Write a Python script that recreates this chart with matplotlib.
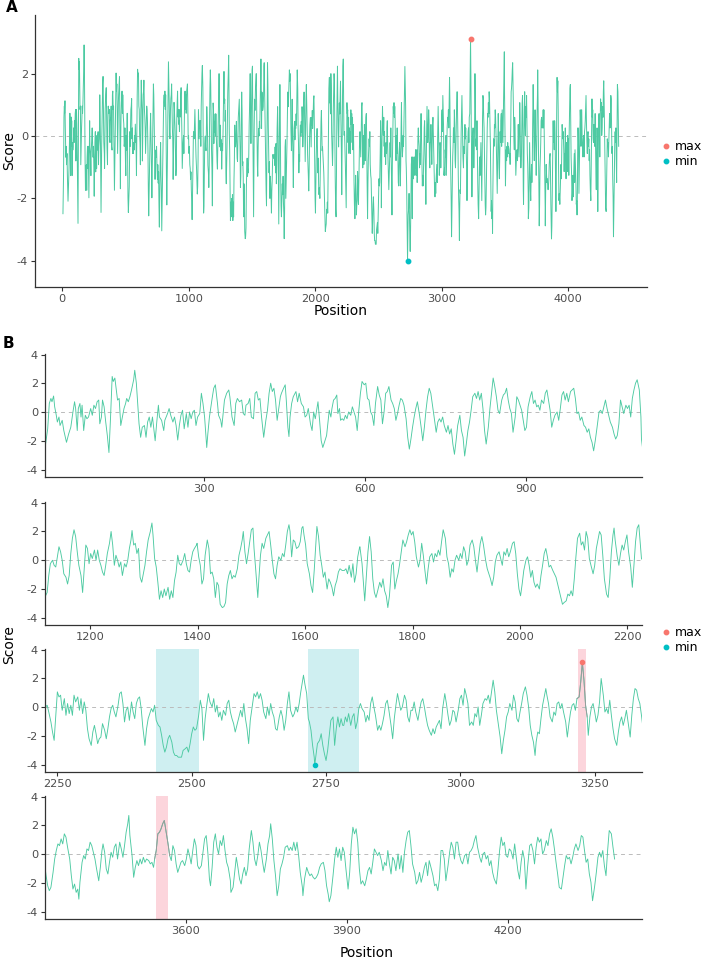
import numpy as np
import matplotlib
matplotlib.use("Agg")
import matplotlib.pyplot as plt
from matplotlib.patches import Rectangle
from matplotlib.lines import Line2D

# ---------------- data ----------------
pos_r1a = [5,10,13,16,18,21,23,26,28,31,
 33,37,40,45,49,53,57,60,62,65,
 67,70,72,74,77,80,83,86,90,93,
 96,99,102,105,107,110,112,115,118,121,
 124,127,130,132,135,137,140,143,146,149,
 152,155,157,160,163,166,170,172,175,177,
 180,183,186,190,193,196,199,202,205,210,
 213,216,218,222,226,228,233,236,239,243,
 246,249,252,255,258,261,264,268,271,274,
 277,280,283,286,289,293,296,299,302,306,
 308,311,316,319,322,326,328,332,334,337,
 339,343,347,349,353,357,360,363,367,371,
 374,377,379,383,386,389,393,396,399,402,
 405,408,412,416,419,422,425,428,431,434,
 437,440,443,445,449,452,454,457,459,461,
 464,467,472,475,478,482,486,489,492,495,
 499,502,505,508,513,516,519,522,525,529,
 532,534,537,539,542,545,548,550,553,555,
 558]
score_r1a = [-2.49,-1.15,0.61,0.96,0.73,1.13,0.38,-0.21,-0.68,-0.33,
 -0.92,-0.56,-1.27,-2.09,-1.51,-1.04,0.02,0.73,0.26,-1.27,
 0.26,0.61,-0.33,0.49,-1.27,-0.21,-0.45,-0.33,0.26,-0.21,
 0.49,0.26,0.73,0.85,-0.8,-0.33,0.85,0.38,-0.68,-1.62,
 -2.8,-0.33,2.49,2.14,2.38,1.79,0.85,0.96,-0.92,-0.33,
 0.26,0.61,0.96,0.73,1.08,1.55,2.26,2.92,2.02,0.85,
 -0.8,-1.74,-1.04,-0.92,-1.74,-0.68,-0.33,-1.04,-0.33,-1.98,
 -0.68,0.49,-0.33,-0.56,-1.27,-0.56,-0.09,0.26,-0.21,-0.68,
 -0.33,-0.92,-1.93,-0.92,-0.21,0.14,-1.15,-0.09,-1.04,0.02,
 -0.45,0.02,0.14,-0.92,-0.33,-0.09,1.32,0.61,-0.33,-2.45,
 -1.51,-0.33,0.96,1.67,1.91,0.61,-0.21,-0.56,-1.04,0.14,
 0.85,1.32,1.55,1.08,-0.33,-0.92,0.61,0.96,0.73,0.85,
 -0.09,-0.21,0.49,0.61,0.96,-0.33,-0.45,1.32,1.44,0.85,
 0.96,-0.33,-1.74,-0.56,0.14,1.32,2.02,1.44,1.67,0.85,
 -0.56,0.26,1.08,1.32,1.67,1.91,0.85,-1.04,-1.69,-0.33,
 0.61,1.08,1.44,0.73,1.32,0.61,0.38,-0.33,-0.21,0.26,
 -0.8,-1.27,0.02,-0.45,0.73,-0.56,-1.98,-2.45,-2.09,-1.62,
 -0.56,0.14,-0.33,0.26,0.85,0.96,1.2,-0.09,0.26,-0.56,
 -0.45]

pos_r1b = [561,564,567,570,574,577,580,583,586,589,
 592,595,599,602,605,608,611,614,617,620,
 624,627,630,633,636,639,642,645,649,652,
 655,658,661,664,667,670,673,677,680,683,
 686,689,692,695,698,702,705,708,711,714,
 717,720,723,727,730,733,736,739,742,745,
 748,752,755,758,761,764,767,770,773,777,
 780,783,786,789,792,795,798,801,805,808,
 811,814,817,820,823,826,830,833,836,839,
 842,845,848,851,855,858,861,864,867,870,
 873,876,880,883,886,889,892,895,898,901,
 904,908,911,914,917,920,923,926,929,933,
 936,939,942,945,948,951,954,958,961,964,
 967,970,973,976,979,983,986,989,992,995,
 998,1001,1004,1008,1011,1014,1017,1020,1023,1026,
 1029,1032,1036,1039,1042,1045,1048,1051,1054,1057,
 1061,1064,1067,1070,1073,1076,1079,1082,1086,1089,
 1092,1095,1098,1101,1104,1107,1111,1114,1115]
score_r1b = [-0.56,-0.21,-0.45,0.02,-0.21,0.38,0.02,-0.33,-1.27,0.14,
 1.32,2.14,1.91,2.02,0.96,0.85,0.02,-0.21,-0.92,0.61,
 1.79,1.2,0.85,-0.8,0.02,1.32,1.44,1.79,0.85,0.61,
 0.26,-0.56,-0.09,0.49,0.96,0.85,0.49,-0.45,-1.74,-2.56,
 -1.86,-1.04,-0.33,0.26,0.73,-0.21,-1.04,-1.98,-1.04,0.14,
 1.08,1.67,1.32,0.26,-0.56,-1.39,-0.68,-0.45,-0.68,-0.33,
 -0.92,-1.39,-0.92,-1.51,-1.15,-2.21,-2.92,-1.98,-0.92,-0.21,
 -1.27,-1.74,-3.04,-2.21,-1.27,-0.68,0.14,1.08,1.32,0.96,
 1.44,0.85,1.32,0.26,-1.27,-2.21,-1.04,0.26,1.32,2.38,
 1.79,1.08,0.14,-0.09,0.85,1.2,1.32,1.67,0.85,0.26,
 -0.09,-1.39,-0.33,1.08,0.85,0.49,0.14,-0.56,-1.27,-1.04,
 0.38,1.08,1.44,0.61,0.85,0.38,0.49,0.14,0.85,0.61,
 1.32,1.55,0.85,0.14,-1.04,-0.56,-0.21,0.02,-0.56,0.26,
 1.2,1.44,0.85,1.32,0.73,1.44,1.55,1.67,0.96,-0.09,
 0.02,-0.56,-0.33,-0.92,-1.04,-1.39,-1.15,-1.74,-2.09,-2.68,
 -1.98,-1.15,0.02,0.14,-0.09,0.38,0.85,0.26,-0.21,-0.68,
 -1.04,-1.51,-1.86,-1.62,-0.8,0.85,0.38,-0.09,0.49,0.26,
 0.49,-0.33,0.96,1.55,2.02,2.26,1.55,-0.33,-1.86]

pos_r2a = [1117,1120,1123,1126,1130,1133,1136,1139,1142,1145,
 1148,1151,1155,1158,1161,1164,1167,1170,1173,1176,
 1179,1183,1186,1189,1192,1195,1198,1201,1204,1208,
 1211,1214,1217,1220,1223,1226,1229,1232,1236,1239,
 1242,1245,1248,1251,1254,1257,1260,1264,1267,1270,
 1273,1276,1278,1281,1284,1287,1290,1293,1296,1299,
 1302,1305,1308,1312,1315,1317,1320,1323,1326,1329,
 1332,1335,1338,1341,1345,1348,1351,1354,1357,1360,
 1363,1366,1369,1373,1376,1379,1382,1385,1388,1391,
 1394,1398,1399,1402,1405,1408,1411,1414,1418,1421,
 1424,1427,1430,1433,1436,1439,1442,1446,1449,1452,
 1455,1458,1461,1464,1467,1470,1474,1477,1480,1483,
 1485,1488,1491,1494,1497,1500,1503,1505,1508,1512,
 1514,1517,1520,1523,1527,1530,1533,1536,1539,1542,
 1545,1548,1551,1555,1558,1561,1564,1567,1570,1572,
 1575,1578,1581,1584,1588,1591,1594,1596,1598,1601,
 1604,1608,1611,1614,1617,1620,1622,1625,1628,1631,
 1634,1637,1641,1644,1647,1650,1653,1656,1659,1662,
 1665,1669]
score_r2a = [-2.47,-2.24,-1.06,-0.24,0.0,-0.35,-0.47,0.24,0.94,0.59,
 0.0,-0.94,-1.18,-1.65,-1.06,0.47,1.53,2.12,1.65,0.59,
 -0.35,-1.06,-2.24,-0.59,1.06,0.82,-0.24,0.47,0.12,0.71,
 0.0,0.71,0.0,-0.35,-0.82,-1.06,-0.35,0.47,1.18,2.0,
 1.06,-0.35,0.35,0.0,-0.47,-0.12,-1.06,-0.24,-0.47,0.0,
 0.82,1.41,2.07,1.06,1.18,0.47,0.82,-1.18,-1.53,-0.94,
 -0.35,0.59,1.41,2.0,2.59,1.76,0.12,-0.47,-1.53,-2.71,
 -2.12,-2.59,-2.0,-2.47,-1.88,-2.71,-2.12,-2.59,-1.41,-0.82,
 0.35,-0.24,-0.35,0.0,0.47,-0.24,-0.71,-0.82,0.0,0.59,
 0.82,1.06,1.18,0.24,-0.35,-1.65,-1.29,0.35,1.41,0.82,
 -0.94,-0.82,-1.29,-2.59,-1.53,-1.76,-3.06,-3.29,-3.22,-2.94,
 -1.65,-1.06,-0.71,-1.29,-1.06,-1.18,-0.59,0.35,0.82,1.41,
 2.0,0.59,-0.24,0.47,1.29,2.12,2.24,0.82,-0.59,-2.59,
 -1.29,0.35,1.18,0.82,1.53,1.76,2.0,1.06,0.0,-0.94,
 -1.29,-0.35,0.24,0.0,0.47,0.24,1.06,2.0,2.47,2.0,
 0.24,1.41,1.29,0.82,0.94,1.29,2.24,2.35,1.76,1.06,
 -0.24,-0.94,-1.76,-2.24,-0.71,1.06,2.35,1.65,0.35,-0.35,
 -1.18,-0.82,-2.0,-1.29,-1.53,-1.88,-2.47,-1.76,-1.41,-0.82,
 -0.59,-0.71]

pos_r2b = [1673,1676,1679,1682,1686,1689,1692,1695,1698,1701,
 1702,1706,1709,1711,1714,1717,1720,1723,1726,1729,
 1732,1736,1739,1742,1745,1748,1751,1754,1757,1761,
 1764,1767,1770,1773,1776,1779,1782,1786,1789,1792,
 1795,1798,1801,1804,1807,1811,1814,1817,1820,1823,
 1826,1829,1832,1836,1839,1842,1845,1848,1851,1854,
 1857,1861,1864,1867,1870,1873,1876,1879,1882,1886,
 1889,1892,1895,1898,1901,1904,1907,1911,1914,1917,
 1920,1923,1926,1929,1932,1936,1939,1942,1945,1948,
 1951,1954,1957,1961,1964,1967,1970,1973,1976,1979,
 1982,1986,1989,1992,1995,1998,2001,2004,2007,2011,
 2014,2017,2020,2023,2026,2029,2032,2036,2039,2042,
 2045,2048,2051,2054,2057,2061,2064,2067,2070,2073,
 2076,2079,2082,2086,2089,2092,2095,2098,2101,2104,
 2107,2111,2114,2117,2120,2123,2126,2129,2132,2136,
 2139,2142,2145,2148,2151,2154,2157,2161,2164,2167,
 2170,2173,2175,2177,2181,2184,2187,2190,2193,2196,
 2199,2202,2206,2209,2212,2215,2218,2221,2223,2226]
score_r2b = [-0.71,-0.59,-0.94,-0.35,-1.18,-0.24,-1.53,-0.94,0.24,0.82,
 0.94,-0.24,-1.76,-2.82,-1.06,0.59,1.65,0.59,-1.29,-2.24,
 -2.59,-2.0,-1.53,-1.88,-1.29,-2.12,-2.47,-3.29,-2.47,-0.35,
 -0.12,-2.0,-1.41,-0.94,-0.24,0.59,1.41,0.94,1.29,1.76,
 2.12,1.76,2.0,1.29,0.24,-0.47,0.0,1.18,0.35,-0.71,
 -1.65,-0.59,0.24,0.47,-0.12,0.47,0.24,0.71,0.35,1.29,
 2.12,1.53,0.24,-0.24,-1.18,-0.59,-0.82,0.0,0.35,0.0,
 0.47,0.12,0.94,0.59,-0.35,0.0,1.06,1.41,0.94,0.0,
 -0.82,0.24,1.18,1.65,1.06,0.0,-0.59,-0.94,-1.29,-1.76,
 -1.18,-0.12,0.35,0.59,0.12,-0.35,0.59,0.35,0.82,0.24,
 0.59,1.18,1.29,0.47,-0.94,-2.0,-2.47,-1.65,-0.71,0.0,
 0.24,-0.35,-1.18,-0.71,-1.53,-1.88,-1.65,-2.0,-1.06,-0.35,
 0.47,0.82,0.24,-0.47,-0.35,-0.71,-0.94,-1.18,-1.65,-2.12,
 -2.59,-3.06,-2.94,-2.82,-2.35,-2.47,-2.12,-2.47,-1.29,0.24,
 1.53,1.88,1.06,1.29,0.71,2.0,1.53,0.12,-0.35,-0.94,
 -0.35,0.82,1.41,2.0,1.76,0.35,-1.29,-2.35,-2.59,-1.29,
 0.59,1.76,2.24,1.41,0.24,-0.35,0.47,1.06,0.71,1.29,
 1.76,0.59,-0.47,-1.88,-0.35,1.29,2.24,2.47,1.53,0.12]

pos_r3a = [2228,2231,2234,2238,2241,2244,2247,2250,2253,2256,
 2259,2263,2266,2269,2272,2275,2278,2281,2284,2288,
 2291,2294,2297,2300,2303,2306,2309,2313,2316,2319,
 2322,2325,2328,2331,2334,2338,2341,2344,2347,2350,
 2353,2356,2359,2363,2366,2369,2372,2375,2378,2381,
 2384,2388,2391,2394,2397,2400,2403,2406,2409,2413,
 2416,2419,2422,2425,2428,2431,2434,2438,2441,2444,
 2447,2450,2453,2456,2459,2463,2466,2469,2472,2475,
 2478,2481,2484,2488,2491,2494,2497,2500,2503,2506,
 2509,2513,2516,2519,2522,2525,2528,2531,2534,2538,
 2541,2544,2547,2550,2553,2556,2559,2563,2566,2569,
 2572,2575,2578,2581,2584,2588,2591,2594,2597,2600,
 2603,2606,2609,2613,2616,2619,2622,2625,2628,2631,
 2634,2638,2641,2644,2647,2650,2653,2656,2659,2663,
 2666,2669,2672,2675,2678,2681,2684,2688,2691,2694,
 2697,2700,2703,2706,2708,2711,2714,2717,2719,2722,
 2725,2728,2729,2732,2734,2738,2741,2744,2747,2750,
 2753,2756,2759,2763,2766,2769,2772,2775,2778,2781]
score_r3a = [0.02,0.14,-0.33,-1.02,-1.72,-2.3,-0.67,1.07,0.72,0.84,
 -0.21,0.6,-0.56,0.26,-0.44,0.14,-0.56,0.84,0.37,0.72,
 -0.21,0.6,-0.44,0.37,-0.21,-1.49,-2.19,-2.65,-1.72,-1.26,
 -1.84,-2.53,-2.19,-2.07,-1.14,-1.6,-2.19,-1.49,-0.67,-0.09,
 0.14,-0.33,-0.67,0.14,0.95,1.07,0.26,-1.02,-0.21,0.02,
 -0.91,0.37,-0.33,-0.79,0.26,0.6,0.72,-0.09,-1.37,-2.65,
 -1.49,-0.79,-0.44,-0.09,-0.33,0.14,-0.91,-1.26,-1.37,-1.95,
 -2.65,-3.12,-2.77,-2.19,-1.95,-2.42,-3.12,-3.35,-3.35,-3.47,
 -3.47,-3.47,-3.0,-2.88,-2.77,-3.12,-2.53,-1.84,-1.37,-1.6,
 -1.49,-0.56,0.49,-0.09,-2.3,-0.79,0.14,0.95,0.37,0.02,
 0.6,-0.33,0.14,-0.67,-0.33,-0.91,-0.21,-0.56,0.26,0.49,
 -0.33,-0.79,-1.14,-1.72,-1.26,-0.67,-0.21,-0.67,0.26,-0.79,
 -1.49,-2.53,-0.91,0.14,0.95,0.72,1.07,0.6,0.95,0.49,
 -0.33,-0.79,0.02,-0.56,0.26,-0.33,-0.67,-1.49,-1.6,-0.67,
 -0.21,-0.67,-1.6,-0.91,0.26,1.07,-0.21,-0.67,-0.44,0.02,
 -0.33,0.26,1.07,1.77,2.23,1.53,0.95,-0.79,-1.02,-1.6,
 -2.65,-3.47,-4.0,-3.12,-2.53,-2.3,-1.84,-2.65,-3.23,-3.7,
 -3.0,-1.95,-0.91,-0.67,-2.65,-1.49,-0.67,-1.37,-0.79,-1.26]

pos_r3b = [2783,2786,2789,2792,2796,2799,2802,2805,2808,2811,
 2814,2817,2821,2824,2827,2830,2833,2836,2839,2842,
 2846,2849,2852,2855,2858,2861,2864,2867,2871,2874,
 2877,2880,2883,2886,2889,2892,2896,2899,2902,2905,
 2908,2911,2914,2917,2921,2924,2927,2930,2933,2936,
 2939,2942,2946,2949,2952,2955,2958,2961,2964,2967,
 2971,2974,2977,2980,2983,2986,2989,2992,2996,2999,
 3002,3005,3008,3011,3014,3017,3021,3024,3027,3030,
 3033,3036,3039,3042,3046,3049,3052,3055,3058,3061,
 3064,3067,3071,3074,3077,3080,3083,3086,3089,3092,
 3096,3099,3102,3105,3108,3111,3114,3117,3121,3124,
 3127,3130,3133,3136,3139,3141,3144,3147,3150,3153,
 3156,3159,3161,3164,3167,3171,3174,3177,3180,3183,
 3186,3189,3192,3196,3199,3202,3205,3208,3211,3214,
 3217,3221,3224,3227,3230,3233,3236,3238,3241,3244,
 3247,3250,3253,3256,3259,3262,3266,3269,3272,3275,
 3278,3281,3284,3287,3291,3294,3297,3300,3303,3306,
 3309,3312,3316,3319,3322,3325,3328,3331,3334]
score_r3b = [-1.26,-0.67,-1.02,-0.44,-1.26,-0.67,-0.44,-1.49,-1.02,-0.09,
 0.26,-0.09,-0.33,-1.02,-0.56,-0.91,0.26,0.72,0.02,-0.56,
 -1.6,-1.26,-1.6,-1.14,-0.56,0.26,0.49,-0.21,-1.26,-2.19,
 -0.79,0.14,0.95,0.37,-0.21,0.02,0.84,0.49,-0.67,-1.02,
 -0.21,-0.21,0.37,-0.33,-0.91,-0.21,0.37,0.6,0.02,-0.67,
 -1.26,-1.6,-1.95,-1.49,-1.84,-1.37,-1.14,-0.91,-1.49,-0.09,
 0.95,0.26,-0.56,-1.26,-0.91,-0.21,-0.33,-1.02,-0.21,0.6,
 0.84,0.14,1.3,0.84,0.26,-1.26,-1.02,-1.26,-0.44,-0.67,
 0.02,-1.26,-0.56,0.26,0.6,0.49,0.84,0.26,1.07,1.88,
 1.07,-0.21,-1.26,-2.07,-3.23,-2.3,-1.6,-0.67,-0.33,0.26,
 -0.21,0.84,0.37,-0.79,-1.02,-0.33,0.26,0.95,1.42,0.84,
 0.02,-1.26,-1.95,-2.42,-3.35,-2.42,-1.72,-1.84,-0.79,0.14,
 0.72,1.3,0.84,0.26,-0.67,-1.02,-0.33,-0.56,0.26,0.37,
 -0.09,0.26,-0.33,-1.02,-2.07,-1.14,-0.33,0.14,0.26,-0.21,
 0.6,0.72,1.77,3.12,1.88,0.14,-0.67,-1.95,-0.67,0.02,
 0.26,-0.33,-1.02,-0.56,0.37,2.0,0.84,-0.33,-0.09,-0.44,
 0.49,-0.56,-1.49,-2.19,-2.65,-1.72,-1.02,-0.67,-1.26,-0.79,
 -0.21,-1.02,-2.07,-0.56,0.6,1.3,1.19,0.6,0.26]

pos_r4a = [3337,3340,3343,3346,3349,3353,3356,3359,3362,3365,
 3368,3371,3374,3377,3380,3384,3387,3390,3393,3396,
 3399,3401,3403,3407,3410,3413,3416,3419,3422,3425,
 3428,3431,3434,3438,3441,3444,3446,3449,3452,3455,
 3458,3461,3464,3467,3470,3473,3477,3480,3483,3486,
 3489,3492,3494,3496,3500,3503,3506,3509,3512,3515,
 3518,3521,3524,3527,3531,3534,3537,3540,3542,3545,
 3548,3551,3554,3557,3560,3563,3567,3570,3573,3576,
 3579,3582,3585,3588,3591,3594,3598,3601,3604,3607,
 3610,3613,3616,3619,3622,3625,3629,3632,3635,3638,
 3641,3644,3646,3649,3652,3655,3658,3661,3664,3667,
 3670,3673,3676,3679,3683,3684,3688,3691,3694,3697,
 3700,3703,3706,3709,3712,3715,3718,3722,3725,3728,
 3731,3734,3737,3740,3743,3746,3750,3753,3756,3758,
 3761,3764,3767,3770,3773,3776,3779,3782,3785,3789,
 3792,3795,3798,3801,3804,3807,3810,3813,3817,3818,
 3821,3825,3828,3831,3834,3837,3840,3843,3846,3849,
 3852,3856,3859,3862,3865,3867,3870,3874,3877,3880,
 3883,3886,3889,3892]
score_r4a = [-0.56,-1.49,-2.19,-2.53,-2.3,-1.26,-0.33,0.26,0.72,0.6,
 1.07,0.72,1.42,1.19,0.49,-0.33,-1.49,-2.42,-2.07,-2.65,
 -2.42,-3.12,-1.95,-0.56,-0.09,-0.33,0.37,0.26,0.84,0.6,
 0.14,-0.33,-1.02,-1.84,-0.91,0.26,0.72,0.14,-1.02,-1.37,
 -0.56,0.14,-0.21,0.49,0.72,-0.33,0.84,0.37,-0.21,0.6,
 1.53,2.12,2.7,1.3,-0.09,-1.6,-0.91,-0.44,-0.79,-0.33,
 -0.67,-0.21,-0.56,-0.33,-0.44,-0.67,-0.56,-0.91,-0.33,0.26,
 1.42,1.53,1.77,2.12,2.35,1.65,0.72,-0.09,-0.44,0.6,
 0.26,-0.67,-1.26,-0.91,-0.56,-0.44,-0.79,-0.33,0.37,-0.09,
 -0.67,0.26,1.07,0.6,-0.79,-1.02,-0.79,0.14,1.07,1.3,
 0.14,-1.72,-2.19,-0.91,0.84,1.42,0.49,0.02,0.95,0.6,
 1.3,0.26,-0.56,-0.91,-1.84,-2.65,-2.3,-1.26,-0.21,-0.91,
 -1.72,-2.07,-1.37,-0.91,-1.49,-1.02,0.37,1.65,0.84,-0.33,
 -0.79,-0.09,0.84,0.26,-0.56,-1.26,-0.33,0.72,1.3,2.12,
 1.07,-0.44,-1.49,-2.88,-2.19,-1.02,-0.67,-0.21,0.49,0.6,
 0.26,0.49,0.26,0.84,0.26,0.84,-0.09,-1.26,-2.3,-2.88,
 -1.72,-0.91,-1.26,-1.49,-1.37,-1.6,-1.72,-1.6,-1.37,-0.91,
 -0.67,-0.56,-1.14,-2.19,-2.77,-3.3,-2.88,-1.49,-0.33,0.49,
 -0.21,0.37,-0.44,0.49]

pos_r4b = [3895,3898,3902,3905,3908,3911,3914,3917,3920,3923,
 3926,3929,3933,3936,3939,3942,3945,3948,3951,3954,
 3957,3960,3964,3967,3970,3973,3976,3979,3982,3985,
 3988,3991,3995,3998,4001,4004,4007,4010,4013,4016,
 4019,4022,4026,4029,4032,4035,4038,4041,4044,4047,
 4050,4053,4057,4060,4063,4066,4069,4072,4075,4078,
 4081,4084,4088,4091,4094,4097,4100,4103,4106,4109,
 4112,4115,4119,4122,4125,4128,4131,4134,4137,4140,
 4143,4147,4150,4153,4156,4159,4162,4165,4168,4171,
 4174,4178,4181,4184,4187,4190,4193,4196,4199,4202,
 4205,4209,4212,4215,4218,4221,4224,4227,4230,4233,
 4236,4240,4243,4246,4249,4252,4255,4258,4261,4264,
 4267,4271,4274,4277,4280,4283,4286,4289,4292,4295,
 4299,4302,4305,4308,4311,4314,4317,4320,4323,4326,
 4330,4333,4336,4339,4342,4345,4348,4351,4354,4357,
 4361,4364,4367,4370,4373,4376,4379,4382,4385,4388,
 4392,4395,4398]
score_r4b = [0.14,-1.02,-2.42,-1.26,0.72,1.88,1.42,1.77,0.84,-1.02,
 -2.07,-1.84,-2.19,-1.72,-1.14,-0.91,-1.37,-0.56,0.37,0.14,
 -0.09,0.14,-0.44,-1.14,-0.56,-0.79,0.26,-0.67,-1.37,-0.21,
 -0.44,-1.14,0.02,-1.02,-0.09,-1.26,0.14,0.95,1.53,1.65,
 0.6,-0.67,-1.26,-2.07,-1.84,-1.26,-1.95,-1.49,-0.91,-0.56,
 -1.49,-0.44,-1.02,-1.49,-2.19,-2.07,-2.53,-1.72,0.26,0.26,
 -0.33,-1.84,-0.79,0.14,0.84,0.49,-0.33,0.84,0.84,0.02,
 -0.44,-0.67,-0.09,0.02,-0.67,0.14,0.26,0.49,0.95,1.3,
 0.49,-0.21,-0.56,0.02,0.14,-0.33,-0.09,-0.79,-0.44,-1.26,
 -1.72,-2.07,-1.02,0.26,1.19,0.6,0.84,-0.09,-0.21,0.37,
 0.26,-0.33,0.72,-0.21,-1.14,-1.72,-0.56,0.26,-0.33,-2.42,
 -0.91,0.6,0.72,0.26,-0.67,0.49,1.19,0.84,1.07,0.02,
 0.26,0.95,0.6,1.42,1.77,1.19,0.37,-0.56,-1.37,-2.3,
 -2.42,-1.6,-0.79,-0.09,-0.33,-0.21,-0.67,-0.21,0.37,0.72,
 0.26,0.6,1.3,1.19,0.26,-0.56,-0.33,-1.37,-1.95,-3.23,
 -2.19,-1.26,-0.21,0.14,-0.21,0.26,-0.79,-1.49,0.26,1.65,
 1.42,0.49,-0.33]

# highlighted windows (position ranges)
min_region_start = [2433, 2717]
min_region_end = [2513, 2811]
max_region_start = [3219, 3544]
max_region_end = [3233, 3567]

# axis settings
row_limits = [(5, 1116), (1116, 2227), (2227, 3338), (3338, 4449)]
row_ticks = [[300, 600, 900],
             [1200, 1400, 1600, 1800, 2000, 2200],
             [2250, 2500, 2750, 3000, 3250],
             [3600, 3900, 4200]]
a_xticks = [0, 1000, 2000, 3000, 4000]
a_yticks = [-4, -2, 0, 2]
b_yticks = [-4, -2, 0, 2, 4]
legend_labels = ["max", "min"]

# ---------------- assemble ----------------
positions = np.array(pos_r1a + pos_r1b + pos_r2a + pos_r2b + pos_r3a +
                     pos_r3b + pos_r4a + pos_r4b, dtype=float)
scores = np.array(score_r1a + score_r1b + score_r2a + score_r2b + score_r3a +
                  score_r3b + score_r4a + score_r4b, dtype=float)
n = min(len(positions), len(scores))
positions, scores = positions[:n], scores[:n]
imax, imin = int(np.argmax(scores)), int(np.argmin(scores))

plt.rcParams['axes.unicode_minus'] = False
plt.rcParams['font.family'] = ['DejaVu Sans']

LINE = '#4DCAA2'
MAXC = '#F8766D'
MINC = '#00BFC4'
AXC = '#333333'
TXC = '#4D4D4D'

W, H = 708, 960
fig = plt.figure(figsize=(W / 100, H / 100), dpi=100)


def rect(l, t, r, b):
    return [l / W, 1 - b / H, (r - l) / W, (b - t) / H]


def style(ax):
    for s in ['top', 'right']:
        ax.spines[s].set_visible(False)
    for s in ['left', 'bottom']:
        ax.spines[s].set_color(AXC)
        ax.spines[s].set_linewidth(0.9)
    ax.tick_params(colors=AXC, labelcolor=TXC, labelsize=8.2, length=3,
                   width=0.8, pad=2)
    ax.set_facecolor('white')


# ---------------- panel A ----------------
axA = fig.add_axes(rect(35, 15, 647, 287))
style(axA)
axA.axhline(0, color='#BBBBBB', lw=0.7, ls=(0, (4, 4)), zorder=1)
axA.plot(positions, scores, color=LINE, lw=0.7, zorder=2)
axA.plot(positions[imax], scores[imax], 'o', color=MAXC, ms=3.2, zorder=3)
axA.plot(positions[imin], scores[imin], 'o', color=MINC, ms=3.2, zorder=3)
axA.set_xlim(-216, 4622)
axA.set_ylim(-4.84, 3.88)
axA.set_xticks(a_xticks)
axA.set_yticks(a_yticks)

fig.text(12 / W, 1 - 8 / H, "A", fontsize=11, fontweight='bold', ha='center', va='center')
fig.text(341 / W, 1 - 311 / H, "Position", fontsize=10, ha='center', va='center')
fig.text(9 / W, 1 - 151 / H, "Score", fontsize=10, ha='center', va='center', rotation=90)

handles = [Line2D([], [], marker='o', ls='', color=MAXC, ms=3.2),
           Line2D([], [], marker='o', ls='', color=MINC, ms=3.2)]


def add_legend(yc):
    fig.legend(handles, legend_labels, loc='center left',
               bbox_to_anchor=(660 / W, 1 - yc / H), frameon=False,
               fontsize=9, handletextpad=0.2, handlelength=1.0,
               labelspacing=0.15, borderaxespad=0, borderpad=0)


add_legend(154)

# ---------------- panel B ----------------
row_boxes = [(354, 477), (502, 625), (649, 772), (796, 919)]
for k, (t, b) in enumerate(row_boxes):
    ax = fig.add_axes(rect(45, t, 642, b))
    style(ax)
    lo, hi = row_limits[k]
    for s0, s1 in zip(min_region_start, min_region_end):
        ax.axvspan(s0, s1, color='#CFEFF1', lw=0, zorder=0)
    for s0, s1 in zip(max_region_start, max_region_end):
        ax.axvspan(s0, s1, color='#FCD5DC', lw=0, zorder=0)
    ax.axhline(0, color='#BBBBBB', lw=0.7, ls=(0, (4, 4)), zorder=1)
    ax.plot(positions, scores, color=LINE, lw=0.65, zorder=2)
    for s0, s1 in zip(max_region_start, max_region_end):
        m = (positions >= s0 - 3) & (positions <= s1 + 3)
        ax.plot(positions[m], scores[m], color='#9A9A9A', lw=0.65, zorder=3)
    ax.plot(positions[imax], scores[imax], 'o', color=MAXC, ms=3.0, zorder=4)
    ax.plot(positions[imin], scores[imin], 'o', color=MINC, ms=3.0, zorder=4)
    ax.set_xlim(lo, hi)
    ax.set_ylim(-4.5, 4.05)
    ax.set_xticks(row_ticks[k])
    ax.set_yticks(b_yticks)

fig.text(8 / W, 1 - 343 / H, "B", fontsize=11, fontweight='bold', ha='center', va='center')
fig.text(9 / W, 1 - 645 / H, "Score", fontsize=10, ha='center', va='center', rotation=90)
fig.text(367 / W, 1 - 953 / H, "Position", fontsize=10, ha='center', va='center')
add_legend(640)

fig.savefig("out.png", dpi=100, facecolor='white')
